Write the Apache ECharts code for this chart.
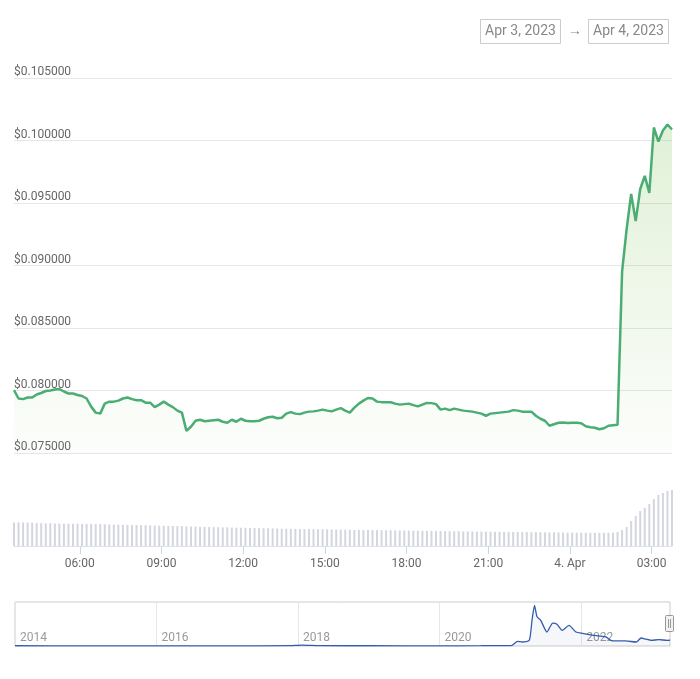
<!DOCTYPE html>
<html>
<head>
<meta charset="utf-8">
<script src="https://cdn.jsdelivr.net/npm/echarts@6/dist/echarts.min.js"></script>
<style>
  html, body { margin: 0; padding: 0; background: #fff; }
  #chart { width: 700px; height: 679px; }
</style>
</head>
<body>
<div id="chart"></div>
<script>
// 价格：2023-04-03 03:35 起，每 10 分钟一个点
const priceStart = new Date(2023, 3, 3, 3, 35).getTime()
const stepMs = 10 * 60 * 1000
const prices = [
  0.08003, 0.07936, 0.07931, 0.07944, 0.07944, 0.07968, 0.07980, 0.07996, 0.08000, 0.08008,
  0.08012, 0.07992, 0.07976, 0.07976, 0.07964, 0.07956, 0.07936, 0.07871, 0.07823, 0.07815,
  0.07895, 0.07911, 0.07911, 0.07919, 0.07936, 0.07944, 0.07931, 0.07922, 0.07923, 0.07903,
  0.07903, 0.07867, 0.07887, 0.07911, 0.07887, 0.07867, 0.07839, 0.07823, 0.07677, 0.07710,
  0.07758, 0.07766, 0.07754, 0.07758, 0.07762, 0.07766, 0.07750, 0.07742, 0.07766, 0.07750,
  0.07774, 0.07758, 0.07754, 0.07754, 0.07758, 0.07774, 0.07786, 0.07790, 0.07778, 0.07782,
  0.07815, 0.07827, 0.07815, 0.07811, 0.07823, 0.07831, 0.07833, 0.07839, 0.07847, 0.07839,
  0.07833, 0.07847, 0.07859, 0.07839, 0.07823, 0.07863, 0.07895, 0.07919, 0.07940, 0.07936,
  0.07911, 0.07907, 0.07907, 0.07906, 0.07895, 0.07887, 0.07891, 0.07895, 0.07883, 0.07873,
  0.07887, 0.07901, 0.07899, 0.07891, 0.07847, 0.07855, 0.07843, 0.07855, 0.07847, 0.07839,
  0.07835, 0.07831, 0.07823, 0.07815, 0.07798, 0.07815, 0.07819, 0.07823, 0.07827, 0.07831,
  0.07843, 0.07839, 0.07831, 0.07831, 0.07831, 0.07798, 0.07774, 0.07758, 0.07718, 0.07730,
  0.07742, 0.07744, 0.07740, 0.07742, 0.07742, 0.07738, 0.07714, 0.07706, 0.07702, 0.07690,
  0.07698, 0.07718, 0.07722, 0.07726, 0.08951, 0.09290, 0.09572, 0.09355, 0.09612, 0.09717,
  0.09580, 0.10104, 0.09991, 0.10080, 0.10128, 0.10088
]
// 24h 成交量（柱高）
const volumes = [
  23.6, 23.7, 23.5, 23.5, 23.3, 22.9, 22.8, 22.6, 22.7, 22.5,
  22.4, 22.3, 22.3, 22.2, 22.3, 22.1, 22.0, 22.0, 21.9, 21.9,
  21.8, 21.5, 21.4, 21.3, 21.2, 21.1, 21.0, 20.9, 20.8, 20.7,
  20.6, 20.4, 20.3, 20.2, 20.1, 20.0, 19.9, 19.8, 19.6, 19.5,
  19.4, 19.2, 19.1, 19.0, 18.9, 18.8, 18.7, 18.6, 18.5, 18.4,
  18.3, 18.2, 18.1, 18.0, 17.9, 17.8, 17.7, 17.6, 17.5, 17.4,
  17.3, 17.2, 17.1, 17.0, 16.9, 16.9, 16.8, 16.7, 16.7, 16.6,
  16.5, 16.5, 16.4, 16.3, 16.3, 16.2, 16.1, 16.1, 16.0, 15.9,
  15.9, 15.8, 15.7, 15.7, 15.6, 15.5, 15.5, 15.4, 15.3, 15.3,
  15.2, 15.1, 15.1, 15.0, 14.9, 14.9, 14.8, 14.7, 14.7, 14.6,
  14.5, 14.5, 14.4, 14.4, 14.3, 14.3, 14.2, 14.2, 14.1, 14.1,
  14.0, 14.0, 13.9, 13.9, 13.8, 13.8, 13.7, 13.7, 13.6, 13.6,
  13.5, 13.5, 13.4, 13.4, 13.4, 13.3, 13.3, 13.3, 13.2, 13.2,
  13.2, 13.2, 13.3, 14.0, 16.0, 19.0, 25.0, 30.0, 35.0, 38.0,
  42.0, 47.0, 51.0, 53.0, 55.0, 56.0
]
// x 轴刻度（小时，相对 4 月 3 日 00:00）
const tickHours = [6, 9, 12, 15, 18, 21, 24, 27]
const monthNames = ['Jan', 'Feb', 'Mar', 'Apr', 'May', 'Jun', 'Jul', 'Aug', 'Sep', 'Oct', 'Nov', 'Dec']
const dateRange = ['Apr 3, 2023', 'Apr 4, 2023']

// 导航器：历史价格
const navDates = [
  '2014-01-01', '2015-01-01', '2016-01-01', '2017-01-01', '2017-11-20', '2018-01-20', '2018-04-20',
  '2019-01-01', '2020-01-01', '2020-08-01', '2021-01-05', '2021-02-06', '2021-03-03', '2021-04-08',
  '2021-04-22', '2021-05-05', '2021-05-18', '2021-06-06', '2021-07-08', '2021-08-07', '2021-08-29',
  '2021-09-24', '2021-10-30', '2021-12-05', '2022-01-08', '2022-02-28', '2022-05-08', '2022-06-10',
  '2022-08-18', '2022-10-12', '2022-11-06', '2022-12-01', '2022-12-28', '2023-02-06', '2023-03-20',
  '2023-04-04'
]
const navPrices = [
  0.004, 0.003, 0.003, 0.003, 0.006, 0.015, 0.006,
  0.004, 0.003, 0.005, 0.008, 0.08, 0.07, 0.10,
  0.45, 0.71, 0.51, 0.45, 0.245, 0.40, 0.38,
  0.275, 0.36, 0.245, 0.22, 0.19, 0.158, 0.088,
  0.088, 0.07, 0.14, 0.12, 0.10, 0.11, 0.10,
  0.101
]
const navYears = [2014, 2016, 2018, 2020, 2022]

const times = prices.map((_, i) => priceStart + i * stepMs)
const tMin = times[0]
const tMax = times[times.length - 1]
const tickValues = tickHours.map(h => new Date(2023, 3, 3, h).getTime())
const pad = n => (n < 10 ? '0' : '') + n
const timeLabel = v => {
  const d = new Date(v)
  if (d.getHours() === 0 && d.getMinutes() === 0) return d.getDate() + '. ' + monthNames[d.getMonth()]
  return pad(d.getHours()) + ':' + pad(d.getMinutes())
}
const navTicks = navYears.map(y => new Date(y, 0, 1).getTime())
const navTimes = navDates.map(s => {
  const p = s.split('-').map(Number)
  return new Date(p[0], p[1] - 1, p[2]).getTime()
})
const font = 'Roboto'

const chart = echarts.init(document.getElementById('chart'))
chart.setOption({
  animation: false,
  backgroundColor: '#fff',
  textStyle: { fontFamily: font },
  grid: [
    { left: 14, right: 28, top: 78, height: 375, outerBoundsMode: 'none' },
    { left: 14, right: 28, top: 466, height: 80, outerBoundsMode: 'none' },
    { left: 15, right: 30, top: 602, height: 44, outerBoundsMode: 'none', show: true, borderColor: '#cccccc', borderWidth: 1, backgroundColor: 'transparent' }
  ],
  xAxis: [
    { type: 'value', gridIndex: 0, min: tMin, max: tMax, show: false, splitLine: { show: false } },
    {
      type: 'value', gridIndex: 1, min: tMin, max: tMax,
      axisLine: { show: true, lineStyle: { color: '#dde3ee', width: 1 } },
      axisTick: { show: true, customValues: tickValues, length: 8, lineStyle: { color: '#ccd6eb' } },
      axisLabel: { customValues: tickValues, formatter: timeLabel, color: '#666', fontSize: 12, fontFamily: font, margin: 12 },
      splitLine: { show: false }
    },
    {
      type: 'value', gridIndex: 2, min: new Date(2014, 0, 1).getTime(), max: tMax,
      axisLine: { show: false },
      axisTick: { show: false, customValues: navTicks },
      axisLabel: {
        customValues: navTicks, inside: true, align: 'left', verticalAlign: 'bottom',
        margin: 2, padding: [0, 0, 0, 5], color: '#999', fontSize: 12, fontFamily: font,
        formatter: v => String(new Date(v).getFullYear())
      },
      splitLine: { show: true, lineStyle: { color: '#e6e6e6', width: 1 } }
    }
  ],
  yAxis: [
    {
      type: 'value', gridIndex: 0, min: 0.075, max: 0.105, interval: 0.005,
      axisLine: { show: false }, axisTick: { show: false },
      axisLabel: {
        inside: true, verticalAlign: 'bottom', margin: 0, lineHeight: 12,
        color: '#666', fontSize: 12, fontFamily: font,
        formatter: v => '$' + v.toFixed(6)
      },
      splitLine: { show: true, lineStyle: { color: '#e6e6e6', width: 1 } }
    },
    { type: 'value', gridIndex: 1, min: 0, max: 80, show: false, splitLine: { show: false } },
    { type: 'value', gridIndex: 2, min: 0, max: 0.77, show: false, splitLine: { show: false } }
  ],
  series: [
    {
      type: 'bar', xAxisIndex: 1, yAxisIndex: 1,
      data: times.map((t, i) => [t, volumes[i]]),
      barWidth: 2,
      itemStyle: { color: '#d3d6de' }
    },
    {
      type: 'line', xAxisIndex: 0, yAxisIndex: 0,
      data: times.map((t, i) => [t, prices[i]]),
      showSymbol: false,
      lineStyle: { color: '#4aad74', width: 2.5 },
      areaStyle: {
        color: new echarts.graphic.LinearGradient(0, 0, 0, 1, [
          { offset: 0, color: 'rgba(130, 195, 90, 0.35)' },
          { offset: 1, color: 'rgba(130, 195, 90, 0.03)' }
        ])
      },
      z: 3
    },
    {
      type: 'line', xAxisIndex: 2, yAxisIndex: 2,
      data: navTimes.map((t, i) => [t, navPrices[i]]),
      showSymbol: false,
      smooth: 0.2,
      lineStyle: { color: '#335cad', width: 1.3 },
      areaStyle: { color: 'rgba(51, 92, 173, 0.07)' }
    }
  ],
  graphic: [
    { type: 'rect', shape: { x: 480.5, y: 19.5, width: 80, height: 24 }, style: { fill: '#fff', stroke: '#cccccc', lineWidth: 1 } },
    { type: 'text', x: 520.5, y: 31.5, style: { text: dateRange[0], fill: '#888', font: '14px Roboto', align: 'center', verticalAlign: 'middle' } },
    { type: 'text', x: 575, y: 31.5, style: { text: '→', fill: '#888', font: '14px Roboto', align: 'center', verticalAlign: 'middle' } },
    { type: 'rect', shape: { x: 588.5, y: 19.5, width: 80, height: 24 }, style: { fill: '#fff', stroke: '#cccccc', lineWidth: 1 } },
    { type: 'text', x: 628.5, y: 31.5, style: { text: dateRange[1], fill: '#888', font: '14px Roboto', align: 'center', verticalAlign: 'middle' } },
    // 导航器右侧手柄
    { type: 'rect', shape: { x: 665.5, y: 615.5, width: 8, height: 16, r: 1 }, style: { fill: '#f2f2f2', stroke: '#999', lineWidth: 1 }, z: 10 },
    { type: 'line', shape: { x1: 668.5, y1: 619, x2: 668.5, y2: 628 }, style: { stroke: '#999', lineWidth: 1 }, z: 11 },
    { type: 'line', shape: { x1: 670.5, y1: 619, x2: 670.5, y2: 628 }, style: { stroke: '#999', lineWidth: 1 }, z: 11 }
  ]
})
</script>
</body>
</html>
